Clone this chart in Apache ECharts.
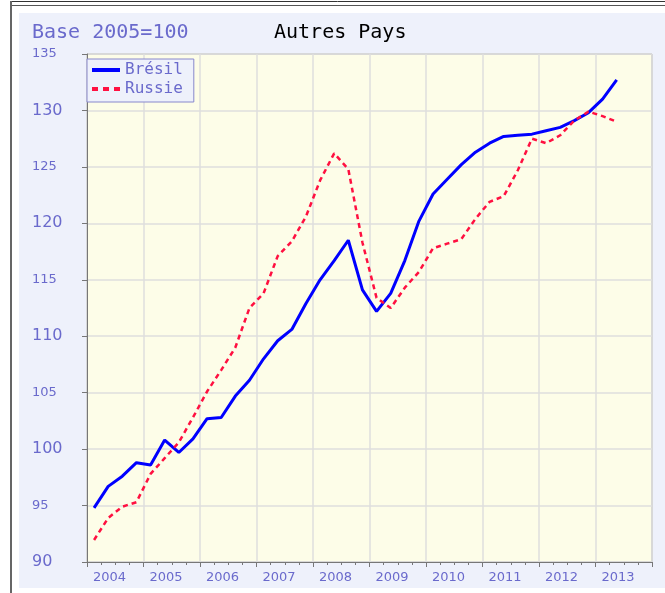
<!DOCTYPE html>
<html>
<head>
<meta charset="utf-8">
<script src="https://cdn.jsdelivr.net/npm/echarts@6/dist/echarts.min.js"></script>
<style>
  html, body { margin: 0; padding: 0; background: #fff; }
  #chart { width: 665px; height: 593px; }
</style>
</head>
<body>
<div id="chart"></div>
<script>
// quarterly index, base 2005 = 100, 2004Q1 .. 2013Q2
const firstYear = 2004;
const yearCount = 10;
const bresil = [
  94.8, 96.7, 97.6, 98.8,
  98.6, 100.8, 99.7, 100.9,
  102.7, 102.8, 104.7, 106.1,
  108.0, 109.6, 110.6, 112.9,
  115.0, 116.7, 118.5, 114.1,
  112.2, 113.8, 116.7, 120.2,
  122.6, 123.9, 125.2, 126.3,
  127.1, 127.7, 127.8, 127.9,
  128.2, 128.5, 129.1, 129.8,
  131.0, 132.7
];
const russie = [
  91.95, 93.9, 94.9, 95.3,
  97.8, 99.2, 100.6, 102.8,
  105.1, 107.0, 109.0, 112.5,
  113.8, 117.1, 118.4, 120.6,
  123.8, 126.2, 124.8, 118.3,
  113.4, 112.5, 114.3, 115.7,
  117.8, 118.2, 118.6, 120.4,
  121.9, 122.4, 124.7, 127.5,
  127.1, 127.8, 129.1, 129.9,
  129.5, 129.0
];

// place each quarter in the middle of its slot
function toPoints(values) {
  return values.map((v, i) => [i + 0.5, v]);
}

const labelColor = '#6a6acc';
const chart = echarts.init(document.getElementById('chart'));

chart.setOption({
  backgroundColor: '#ffffff',
  animation: false,
  graphic: [
    { type: 'rect', z: -100, shape: { x: 19, y: 13, width: 646, height: 575 }, style: { fill: '#eef1fb' } },
    { type: 'line', z: -100, shape: { x1: 10, y1: 1.5, x2: 665, y2: 1.5 }, style: { stroke: '#333', lineWidth: 1 } },
    { type: 'line', z: -100, shape: { x1: 11, y1: 5.5, x2: 665, y2: 5.5 }, style: { stroke: '#555', lineWidth: 1 } },
    { type: 'line', z: -100, shape: { x1: 11, y1: 1, x2: 11, y2: 593 }, style: { stroke: '#666', lineWidth: 2 } }
  ],
  title: [
    {
      text: 'Base 2005=100', left: 32, top: 23, padding: 0,
      textStyle: { color: labelColor, fontFamily: 'DejaVu Sans Mono', fontSize: 20, fontWeight: 'normal' }
    },
    {
      text: 'Autres Pays', left: 274, top: 23, padding: 0,
      textStyle: { color: '#000', fontFamily: 'DejaVu Sans Mono', fontSize: 20, fontWeight: 'normal' }
    }
  ],
  legend: {
    left: 87, top: 59, orient: 'vertical',
    backgroundColor: '#eef1fb', borderColor: '#8888cc', borderWidth: 1,
    padding: [3, 11, 5, 5], itemGap: 3,
    itemWidth: 28, itemHeight: 4,
    lineStyle: { width: 4 },
    textStyle: { color: labelColor, fontFamily: 'DejaVu Sans Mono', fontSize: 16 },
    data: [
      { name: 'Brésil', icon: 'rect' },
      { name: 'Russie', icon: 'path://M0,0h6v4h-6z M11,0h6v4h-6z M22,0h6v4h-6z' }
    ]
  },
  grid: {
    left: 87, top: 54, right: 13, bottom: 31,
    show: true, backgroundColor: '#fdfde8', borderColor: '#999', borderWidth: 1
  },
  xAxis: {
    type: 'value', min: 0, max: yearCount * 4, interval: 4,
    axisLine: { lineStyle: { color: '#777' } },
    axisTick: { length: 5, lineStyle: { color: '#777' } },
    minorTick: { show: true, splitNumber: 4, length: 3, lineStyle: { color: '#777' } },
    splitLine: { show: true, lineStyle: { color: '#dedede', width: 1.5 } },
    axisLabel: {
      color: labelColor, fontFamily: 'DejaVu Sans', fontSize: 13, margin: 9,
      align: 'left', padding: [0, 0, 0, 6],
      formatter: v => (v < yearCount * 4 ? String(firstYear + v / 4) : '')
    }
  },
  yAxis: {
    type: 'value', min: 90, max: 135, interval: 5,
    axisLine: { show: true, lineStyle: { color: '#777' } },
    axisTick: { show: true, length: 5, lineStyle: { color: '#777' } },
    splitLine: { show: true, lineStyle: { color: '#dedede', width: 1.5 } },
    axisLabel: {
      align: 'left', margin: 55,
      formatter: v => (v % 10 === 0 ? '{big|' + v + '}' : '{small|' + v + '}'),
      rich: {
        big: { color: labelColor, fontFamily: 'DejaVu Sans', fontSize: 16 },
        small: { color: labelColor, fontFamily: 'DejaVu Sans', fontSize: 13 }
      }
    }
  },
  series: [
    {
      name: 'Brésil', type: 'line', data: toPoints(bresil), symbol: 'none',
      itemStyle: { color: '#0000ff' },
      lineStyle: { color: '#0000ff', width: 3 }
    },
    {
      name: 'Russie', type: 'line', data: toPoints(russie), symbol: 'none',
      itemStyle: { color: '#ff1040' },
      lineStyle: { color: '#ff1040', width: 2.5, type: [5, 4] }
    }
  ]
});
</script>
</body>
</html>
